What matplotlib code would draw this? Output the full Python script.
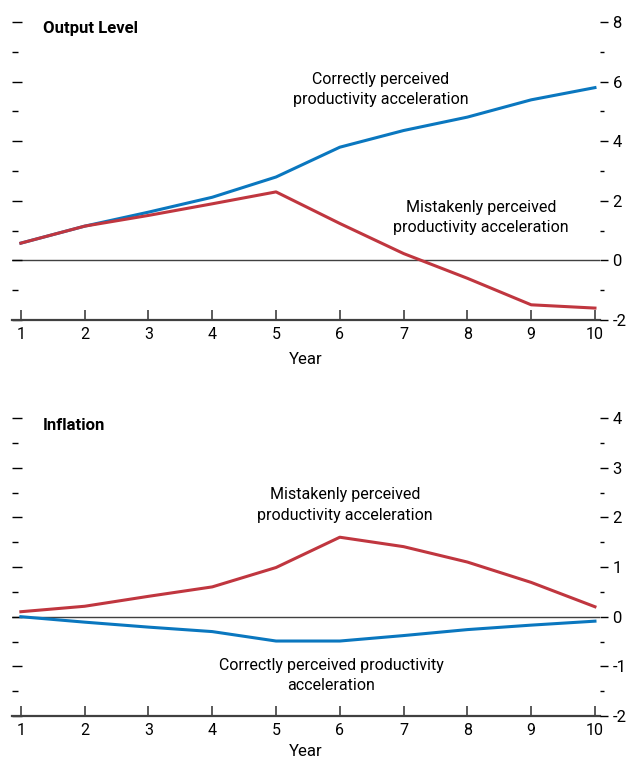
import matplotlib
matplotlib.use("Agg")
import matplotlib.pyplot as plt
from matplotlib.ticker import MultipleLocator

plt.rcParams["font.family"] = ["Roboto", "DejaVu Sans"]
plt.rcParams["axes.unicode_minus"] = False

years = [1, 2, 3, 4, 5, 6, 7, 8, 9, 10]

# Output level
output_correct = [0.58, 1.15, 1.62, 2.12, 2.8, 3.8, 4.36, 4.81, 5.39, 5.8]
output_mistaken = [0.58, 1.15, 1.51, 1.9, 2.3, 1.24, 0.23, -0.6, -1.49, -1.6]

# Inflation
infl_correct = [0.0, -0.11, -0.21, -0.3, -0.49, -0.49, -0.38, -0.26, -0.17, -0.09]
infl_mistaken = [0.1, 0.21, 0.41, 0.6, 0.99, 1.6, 1.41, 1.1, 0.69, 0.2]

BLUE = "#0a77bf"
RED = "#c0363f"
AXC = "#404040"
FS = 11.5

fig = plt.figure(figsize=(6.29, 7.61), dpi=100)
ax_top = fig.add_axes([0.019, 0.5795, 0.935, 0.3915])
ax_bot = fig.add_axes([0.019, 0.0591, 0.935, 0.3916])


def style(ax, ylim, major, xpad):
    ax.set_xlim(0.86, 10.08)
    ax.set_ylim(*ylim)
    for s in ("left", "right", "top"):
        ax.spines[s].set_visible(False)
    ax.spines["bottom"].set_color(AXC)
    ax.spines["bottom"].set_linewidth(1.6)
    ax.axhline(0, color=AXC, lw=1.0, zorder=1)
    ax.set_xticks(years)
    ax.tick_params(axis="x", direction="in", length=7, width=1.2, color=AXC,
                   labelsize=FS, pad=5)
    ax.set_xlabel("Year", fontsize=FS + 0.5, labelpad=xpad)

    # right-hand scale with labels
    ax2 = ax.twinx()
    ax2.set_ylim(*ylim)
    for s in ("left", "right", "top", "bottom"):
        ax2.spines[s].set_visible(False)
    ax2.yaxis.set_major_locator(MultipleLocator(major))
    ax2.yaxis.set_minor_locator(MultipleLocator(major / 2))
    ax2.tick_params(axis="y", which="major", direction="out", length=6,
                    width=1.0, labelsize=FS + 0.5, pad=3)
    ax2.tick_params(axis="y", which="minor", direction="out", length=3,
                    width=1.0)

    # left-hand dashes, no labels
    ax.yaxis.set_major_locator(MultipleLocator(major))
    ax.yaxis.set_minor_locator(MultipleLocator(major / 2))
    ax.tick_params(axis="y", which="both", left=True, right=False,
                   labelleft=False, labelright=False, direction="in",
                   width=1.0)
    ax.tick_params(axis="y", which="major", length=7)
    ax.tick_params(axis="y", which="minor", length=4)


style(ax_top, (-2, 8), 2, 7)
style(ax_bot, (-2, 4), 1, 4)

ax_top.plot(years, output_correct, color=BLUE, lw=2.2, zorder=3)
ax_top.plot(years, output_mistaken, color=RED, lw=2.2, zorder=3)
ax_bot.plot(years, infl_correct, color=BLUE, lw=2.2, zorder=3)
ax_bot.plot(years, infl_mistaken, color=RED, lw=2.2, zorder=3)

ax_top.text(1.34, 7.8, "Output Level", fontsize=12, fontweight="bold",
            va="center", ha="left")
ax_bot.text(1.34, 3.85, "Inflation", fontsize=12, fontweight="bold",
            va="center", ha="left")

ax_top.text(6.64, 5.74, "Correctly perceived\nproductivity acceleration",
            fontsize=FS, ha="center", va="center", linespacing=1.45)
ax_top.text(8.21, 1.44, "Mistakenly perceived\nproductivity acceleration",
            fontsize=FS, ha="center", va="center", linespacing=1.45)
ax_bot.text(6.08, 2.25, "Mistakenly perceived\nproductivity acceleration",
            fontsize=FS, ha="center", va="center", linespacing=1.45)
ax_bot.text(5.87, -1.19, "Correctly perceived productivity\nacceleration",
            fontsize=FS, ha="center", va="center", linespacing=1.45)

fig.savefig("out.png", dpi=100)
